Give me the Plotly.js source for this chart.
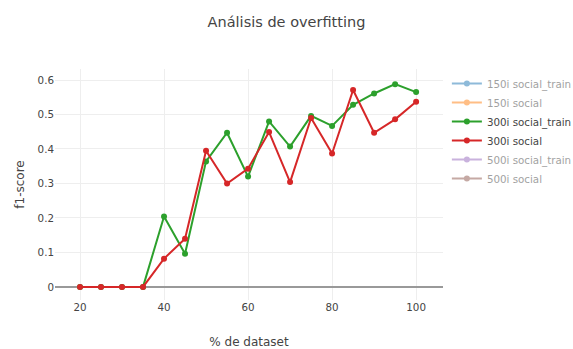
<!DOCTYPE html>
<html>
<head>
<meta charset="utf-8">
<script src="https://cdn.plot.ly/plotly-3.0.1.min.js"></script>
<style>html,body{margin:0;padding:0;background:#fff;}#chart{width:573px;height:349px;}</style>
</head>
<body>
<div id="chart"></div>
<script>
const pct = [20, 25, 30, 35, 40, 45, 50, 55, 60, 65, 70, 75, 80, 85, 90, 95, 100];
const train300 = [0, 0, 0, 0, 0.204, 0.096, 0.364, 0.447, 0.320, 0.480, 0.407, 0.496, 0.467, 0.528, 0.561, 0.588, 0.565];
const test300 = [0, 0, 0, 0, 0.082, 0.140, 0.395, 0.300, 0.343, 0.449, 0.304, 0.490, 0.387, 0.571, 0.447, 0.486, 0.537];
const seriesNames = ["150i social_train", "150i social", "300i social_train", "300i social", "500i social_train", "500i social"];
const colors = ["#1f77b4", "#ff7f0e", "#2ca02c", "#d62728", "#9467bd", "#8c564b"];

const dataByName = {
  "300i social_train": train300,
  "300i social": test300
};

const traces = seriesNames.map((name, i) => {
  const ys = dataByName[name];
  return {
    x: ys ? pct : [null],
    y: ys ? ys : [null],
    name: name,
    type: "scatter",
    mode: "lines+markers",
    line: {color: colors[i], width: 2},
    marker: {color: colors[i], size: 6},
    visible: ys ? true : "legendonly"
  };
});

const layout = {
  width: 573,
  height: 349,
  margin: {l: 55, r: 130, t: 69, b: 49, autoexpand: false},
  font: {family: '"DejaVu Sans", verdana, arial, sans-serif', size: 10.3, color: "#444"},
  title: {text: "Análisis de overfitting", font: {size: 14.5}, x: 0.5, xanchor: "center", y: 0.952},
  paper_bgcolor: "#fff",
  plot_bgcolor: "#fff",
  xaxis: {
    title: {text: "% de dataset", font: {size: 12}, standoff: 26},
    gridcolor: "#eee",
    zeroline: false,
    tickvals: [20, 40, 60, 80, 100],
    range: [14.05, 106.4],
    automargin: false
  },
  yaxis: {
    title: {text: "f1-score", font: {size: 12}, standoff: 10},
    gridcolor: "#eee",
    zeroline: true,
    zerolinecolor: "#999",
    zerolinewidth: 2,
    range: [-0.038, 0.632],
    dtick: 0.1,
    automargin: false
  },
  legend: {x: 1.01, y: 1, font: {size: 10.3}},
  showlegend: true
};

Plotly.newPlot("chart", traces, layout, {displayModeBar: false});
</script>
</body>
</html>
